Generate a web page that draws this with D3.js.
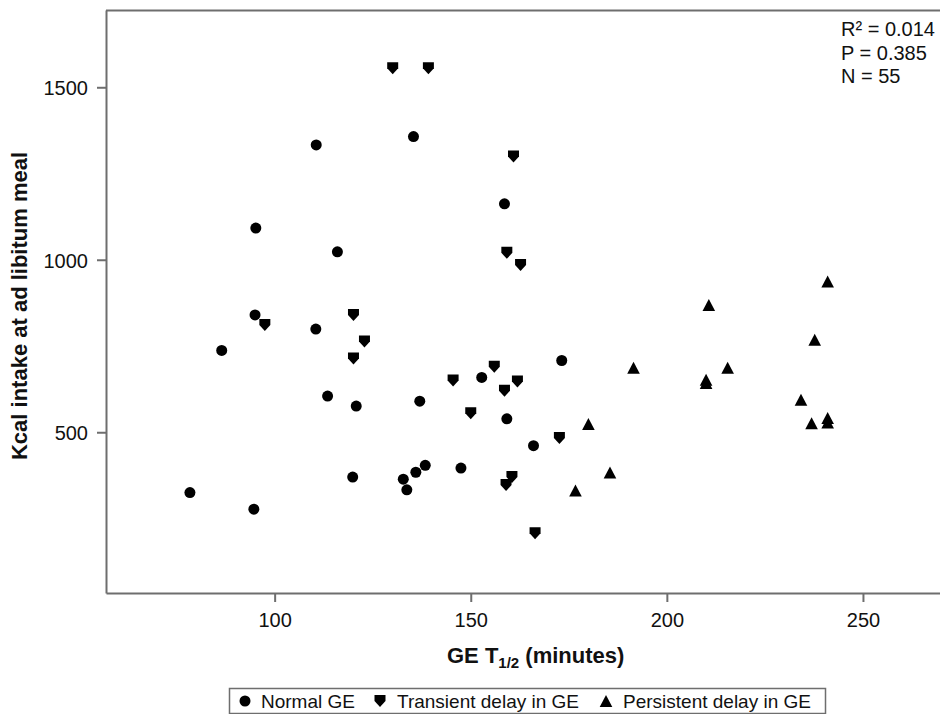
<!DOCTYPE html>
<html lang="en">
<head>
    <meta charset="UTF-8">
    <title>GE T1/2 vs Kcal intake</title>
    <style>
        body { margin: 0; background: #fff; }
        svg { display: block; }
        .axis path, .axis line { stroke: #6e6e6e; stroke-width: 2px; }
        .axis text { font: 20px "Liberation Sans", Arial, sans-serif; fill: #111; }
        .label { font: bold 22px "Liberation Sans", Arial, sans-serif; fill: #111; }
        .note { font: 20px "Liberation Sans", Arial, sans-serif; fill: #111; }
        .legend text { font: 19px "Liberation Sans", Arial, sans-serif; fill: #111; }
    </style>
</head>
<body>
    <svg width="940" height="714"></svg>
    <script src="https://d3js.org/d3.v7.min.js"></script>
    <script>
        // Normal GE (circles)
        const normalX = [78.4, 86.5, 95.2, 95.0, 94.7, 110.6, 110.5, 113.5, 116.0, 119.9, 120.8, 132.8,
                         133.7, 135.4, 136.0, 137.0, 138.4, 147.5, 152.8, 158.6, 159.2, 166.0, 173.2];
        const normalY = [325, 737, 1092, 840, 277, 1333, 799, 605, 1023, 370, 576, 364,
                         333, 1357, 384, 590, 404, 396, 659, 1162, 539, 461, 708];
        // Transient delay in GE (down shields)
        const transientX = [97.5, 120.1, 120.1, 122.9, 130.1, 139.2, 145.5, 150.0, 156.0, 158.6, 159.0,
                            159.2, 160.5, 160.9, 161.9, 162.7, 166.4, 172.6];
        const transientY = [811, 840, 714, 763, 1555, 1555, 650, 555, 690, 620, 347,
                            1020, 370, 1299, 647, 985, 207, 483];
        // Persistent delay in GE (triangles)
        const persistentX = [176.7, 180.0, 185.5, 191.5, 210.0, 210.0, 210.7, 215.5, 234.2, 236.9, 237.7,
                             241.0, 241.0, 241.0];
        const persistentY = [331, 524, 383, 687, 652, 643, 869, 687, 594, 526, 768,
                             937, 541, 528];

        const xTicks = [100, 150, 200, 250];
        const yTicks = [500, 1000, 1500];
        const groups = ["Normal GE", "Transient delay in GE", "Persistent delay in GE"];
        const notes = ["R\u00B2 = 0.014", "P = 0.385", "N = 55"];

        const svg = d3.select("svg");
        const plotLeft = 106, plotTop = 10, plotBottom = 593, plotRight = 941.4;

        const x = d3.scaleLinear().domain([57, 270]).range([plotLeft, plotRight]);
        const y = d3.scaleLinear().domain([34, 1724]).range([plotBottom, plotTop]);

        // marker shapes
        const shapes = {
            circle: d3.symbol().type(d3.symbolCircle).size(Math.PI * 5.5 * 5.5)(),
            down: "M-5.5,-6L5.5,-6L5.5,0L0,6L-5.5,0Z",
            up: "M0,-6L6.3,6L-6.3,6Z"
        };

        // frame top line
        svg.append("line")
            .attr("x1", plotLeft).attr("x2", 940)
            .attr("y1", plotTop + 0.5).attr("y2", plotTop + 0.5)
            .attr("stroke", "#6e6e6e").attr("stroke-width", 2);

        svg.append("g")
            .attr("class", "axis")
            .attr("transform", "translate(0," + plotBottom + ")")
            .call(d3.axisBottom(x).tickValues(xTicks).tickFormat(d3.format("d"))
                .tickSize(9).tickSizeOuter(0).tickPadding(11))
            .selectAll("text").attr("dy", "0.71em");

        svg.append("g")
            .attr("class", "axis")
            .attr("transform", "translate(" + plotLeft + ",0)")
            .call(d3.axisLeft(y).tickValues(yTicks).tickFormat(d3.format("d"))
                .tickSize(9).tickSizeOuter(0).tickPadding(9))
            .selectAll("text").attr("dy", "0.38em");

        // points
        const series = [
            { xs: normalX, ys: normalY, shape: shapes.circle },
            { xs: transientX, ys: transientY, shape: shapes.down },
            { xs: persistentX, ys: persistentY, shape: shapes.up }
        ];
        series.forEach(s => {
            svg.append("g").selectAll("path")
                .data(s.xs.map((v, i) => [v, s.ys[i]]))
                .enter().append("path")
                .attr("d", s.shape)
                .attr("transform", d => "translate(" + x(d[0]) + "," + y(d[1]) + ")")
                .attr("fill", "#000");
        });

        // axis titles
        const xl = svg.append("text")
            .attr("class", "label")
            .attr("x", 447).attr("y", 663);
        xl.append("tspan").text("GE T");
        xl.append("tspan").attr("font-size", "15px").attr("dy", 5).text("1/2");
        xl.append("tspan").attr("dy", -5).text(" (minutes)");

        svg.append("text")
            .attr("class", "label")
            .attr("transform", "translate(27,306) rotate(-90)")
            .attr("text-anchor", "middle")
            .text("Kcal intake at ad libitum meal");

        // stats box
        svg.append("g").selectAll("text")
            .data(notes)
            .enter().append("text")
            .attr("class", "note")
            .attr("x", 841)
            .attr("y", (d, i) => 36 + i * 23.5)
            .text(d => d);

        // legend
        const legend = svg.append("g").attr("class", "legend");
        legend.append("rect")
            .attr("x", 229.5).attr("y", 688.5)
            .attr("width", 596).attr("height", 25)
            .attr("fill", "none").attr("stroke", "#6e6e6e").attr("stroke-width", 1.5);
        const markerX = [245, 380, 606];
        const textX = [261, 397, 623];
        const legendShapes = [shapes.circle, shapes.down, shapes.up];
        groups.forEach((g, i) => {
            legend.append("path")
                .attr("d", legendShapes[i])
                .attr("transform", "translate(" + markerX[i] + ",701)")
                .attr("fill", "#000");
            legend.append("text")
                .attr("x", textX[i]).attr("y", 708)
                .text(g);
        });
    </script>
</body>
</html>
